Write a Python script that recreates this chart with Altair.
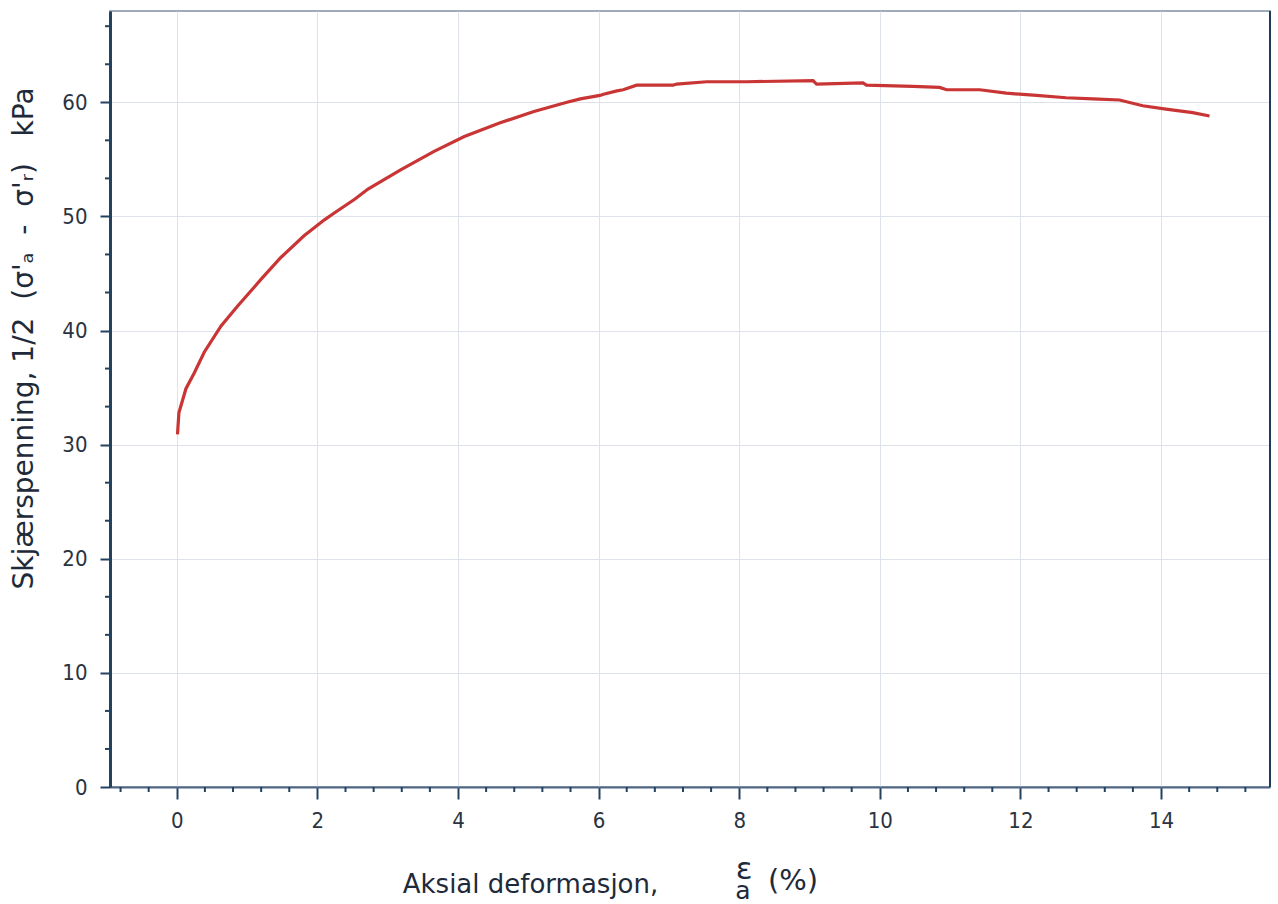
import altair as alt
import pandas as pd

# Axial strain (%) and shear stress 1/2(σ'a - σ'r) (kPa)
strain = [0.01, 0.03, 0.13, 0.25, 0.39, 0.63, 0.86, 1.20, 1.48, 1.81, 2.10, 2.24,
          2.53, 2.72, 3.19, 3.66, 4.09, 4.60, 5.08, 5.55, 5.74, 6.02, 6.07, 6.26,
          6.35, 6.54, 7.06, 7.11, 7.54, 8.11, 9.05, 9.10, 9.76, 9.81, 10.47, 10.85,
          10.95, 11.42, 11.80, 12.23, 12.65, 13.03, 13.41, 13.74, 14.07, 14.45, 14.69]
stress = [30.9, 32.8, 34.9, 36.3, 38.1, 40.4, 42.1, 44.5, 46.4, 48.3, 49.7, 50.3,
          51.5, 52.4, 54.1, 55.7, 57.0, 58.2, 59.2, 60.0, 60.3, 60.6, 60.7, 61.0,
          61.1, 61.5, 61.5, 61.6, 61.8, 61.8, 61.9, 61.6, 61.7, 61.5, 61.4, 61.3,
          61.1, 61.1, 60.8, 60.6, 60.4, 60.3, 60.2, 59.7, 59.4, 59.1, 58.8]

x_major = [0, 2, 4, 6, 8, 10, 12, 14]
y_major = [0, 10, 20, 30, 40, 50, 60]
x_minor = [-0.8, -0.4, 0.4, 0.8, 1.2, 1.6, 2.4, 2.8, 3.2, 3.6, 4.4, 4.8, 5.2, 5.6,
           6.4, 6.8, 7.2, 7.6, 8.4, 8.8, 9.2, 9.6, 10.4, 10.8, 11.2, 11.6, 12.4,
           12.8, 13.2, 13.6, 14.4, 14.8, 15.2]
y_minor = [3.333, 6.667, 13.333, 16.667, 23.333, 26.667, 33.333, 36.667, 43.333,
           46.667, 53.333, 56.667, 63.333, 66.667]

W, H = 1160, 776
FONT = "DejaVu Sans Condensed"
TFONT = "DejaVu Sans"
AXIS_COL = "#23425f"
TXT = "#1e2a3a"
NB = "\u00a0"

y_title = ("Skjærspenning," + NB + "1/2" + NB * 2 + "(σ'ₐ" + NB * 2 + "-" + NB * 2
           + "σ'ᵣ)" + NB * 3 + "kPa")

df = pd.DataFrame({"strain": strain, "stress": stress})
xscale = alt.Scale(domain=[-0.95, 15.55], nice=False, zero=False)
yscale = alt.Scale(domain=[0, 68], nice=False, zero=False)

xaxis = alt.Axis(values=x_major, title="Aksial deformasjon,",
                 grid=True, gridColor="#dde2eb", gridWidth=1,
                 domainColor="#4f6684", domainWidth=2,
                 tickColor=AXIS_COL, tickSize=12, tickWidth=2,
                 labelFont=FONT, labelFontSize=22, labelColor="#2a3340",
                 labelPadding=11, labelFlush=False,
                 titleFont=TFONT, titleFontSize=26, titleFontWeight="normal",
                 titleColor=TXT, titleX=420, titleY=105,
                 titleBaseline="alphabetic", titleAlign="center")
yaxis = alt.Axis(values=y_major, title=y_title,
                 grid=True, gridColor="#dde2eb", gridWidth=1,
                 domainColor=AXIS_COL, domainWidth=3,
                 tickColor=AXIS_COL, tickSize=10, tickWidth=2,
                 labelFont=FONT, labelFontSize=22, labelColor="#2a3340",
                 labelPadding=13, labelFlush=False,
                 titleFont=TFONT, titleFontSize=28, titleFontWeight="normal",
                 titleColor=TXT, titleX=-86, titleY=327,
                 titleAngle=-90, titleBaseline="middle", titleAlign="center")

line = alt.Chart(df).mark_line(color="#c93535", strokeWidth=3.2).encode(
    x=alt.X("strain:Q", scale=xscale, axis=xaxis),
    y=alt.Y("stress:Q", scale=yscale, axis=yaxis),
)

xminor = alt.Chart(pd.DataFrame({"v": x_minor})).mark_rule(
    color=AXIS_COL, strokeWidth=2).encode(
    x=alt.X("v:Q", scale=xscale, axis=xaxis),
    y=alt.value(H), y2=alt.value(H + 5))

yminor = alt.Chart(pd.DataFrame({"v": y_minor})).mark_rule(
    color=AXIS_COL, strokeWidth=2).encode(
    y=alt.Y("v:Q", scale=yscale, axis=yaxis),
    x=alt.value(-5), x2=alt.value(0))

right_border = alt.Chart(pd.DataFrame({"v": [0]})).mark_rule(
    color="#1f3b5c", strokeWidth=2).encode(
    x=alt.value(W), y=alt.value(0), y2=alt.value(H))

eps = alt.Chart(pd.DataFrame({"t": ["ε"]})).mark_text(
    font=TFONT, fontSize=31, color=TXT, align="center", baseline="alphabetic").encode(
    text="t:N", x=alt.value(634), y=alt.value(868))
sub_a = alt.Chart(pd.DataFrame({"t": ["a"]})).mark_text(
    font=TFONT, fontSize=25, color=TXT, align="center", baseline="alphabetic").encode(
    text="t:N", x=alt.value(633), y=alt.value(888))
pct = alt.Chart(pd.DataFrame({"t": ["(%)"]})).mark_text(
    font=TFONT, fontSize=29, color=TXT, align="center", baseline="alphabetic").encode(
    text="t:N", x=alt.value(683), y=alt.value(879))

chart = alt.layer(line, xminor, yminor, right_border, eps, sub_a, pct).properties(
    width=W, height=H,
    autosize=alt.AutoSizeParams(type="none"),
    padding={"left": 110, "top": 11, "right": 8, "bottom": 117},
    background="white",
).configure_view(stroke="#7d8ea5", strokeWidth=1.5)

chart.save("out.html", embed_options={"renderer": "svg", "actions": False})
